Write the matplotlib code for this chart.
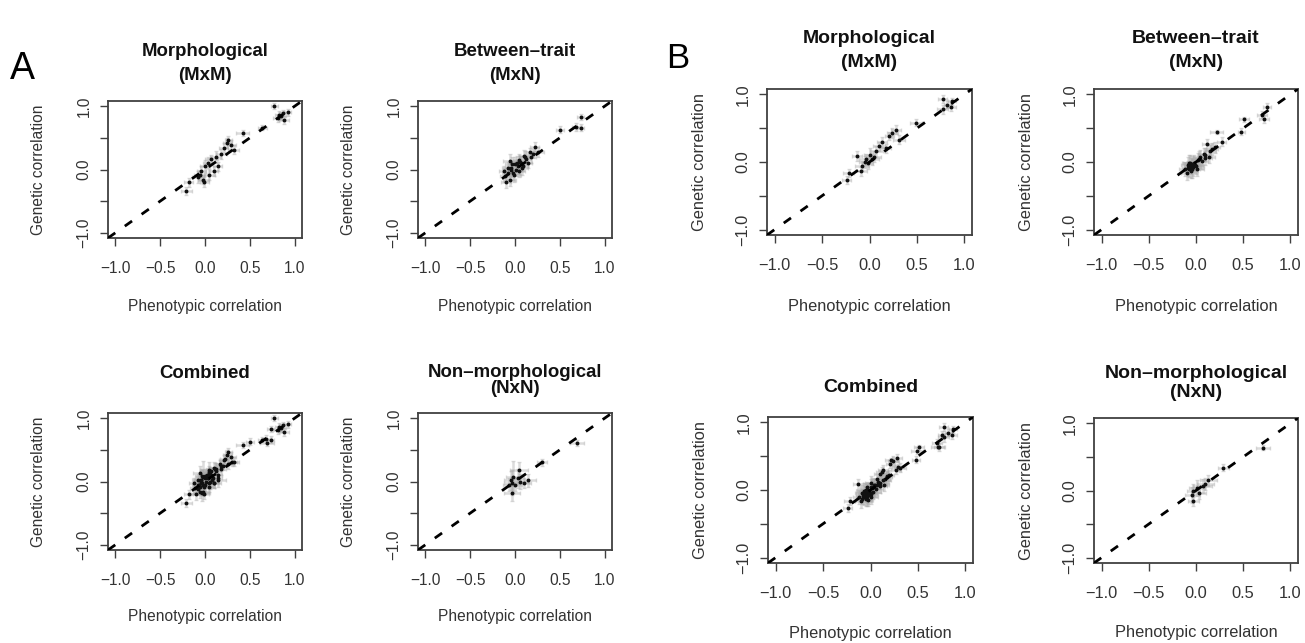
import matplotlib
matplotlib.use("Agg")
import matplotlib.pyplot as plt

plt.rcParams['font.family'] = ['Liberation Sans', 'DejaVu Sans']

# ---- data (phenotypic r, genetic r, error half-widths) ----
# Panel A
a_mxm_x = [-0.21, -0.18, -0.08, -0.06, -0.04, -0.02, -0.01, 0.00, 0.03, 0.05, 0.07, 0.10, 0.12, 0.14, 0.18,
           0.21, 0.26, 0.29, 0.32, 0.25, 0.42, 0.64, 0.77, 0.81, 0.82, 0.87, 0.88, 0.92, 0.85]
a_mxm_y = [-0.34, -0.20, -0.12, -0.08, -0.03, -0.16, -0.20, 0.05, 0.11, -0.08, 0.16, -0.03, 0.20, 0.05, 0.25,
           0.34, 0.47, 0.39, 0.31, 0.42, 0.58, 0.66, 1.00, 0.81, 0.86, 0.89, 0.78, 0.90, 0.84]
a_mxm_xerr = [0.06, 0.05, 0.07, 0.06, 0.05, 0.06, 0.05, 0.06, 0.05, 0.06, 0.07, 0.05, 0.06, 0.05, 0.06,
              0.05, 0.04, 0.05, 0.06, 0.05, 0.07, 0.05, 0.04, 0.05, 0.04, 0.05, 0.06, 0.04, 0.05]
a_mxm_yerr = [0.06, 0.07, 0.10, 0.08, 0.09, 0.07, 0.08, 0.10, 0.08, 0.09, 0.07, 0.08, 0.09, 0.07, 0.08,
              0.07, 0.06, 0.08, 0.07, 0.08, 0.05, 0.04, 0.05, 0.06, 0.07, 0.05, 0.06, 0.05, 0.06]

a_mxn_x = [0.73, 0.68, 0.73, 0.50, 0.22, 0.26, 0.17, 0.11, 0.06, 0.00, -0.04, -0.08, -0.02, 0.01, -0.11,
           -0.06, -0.10, 0.03, 0.07, 0.12, 0.18, -0.06, -0.03, 0.04, 0.09, -0.05, 0.02, -0.08, 0.14, 0.05,
           -0.01, 0.08, -0.12, 0.20, 0.10]
a_mxn_y = [0.83, 0.67, 0.66, 0.63, 0.36, 0.28, 0.27, 0.20, 0.12, 0.08, 0.03, -0.05, -0.05, 0.00, -0.11,
           -0.16, -0.20, 0.05, 0.11, 0.16, 0.19, 0.13, 0.08, -0.02, 0.06, 0.00, 0.10, 0.02, 0.10, 0.15,
           -0.08, 0.02, -0.03, 0.25, 0.22]
a_mxn_xerr = [0.04, 0.05, 0.04, 0.04, 0.05, 0.06, 0.05, 0.06, 0.07, 0.08, 0.07, 0.06, 0.08, 0.07, 0.06,
              0.07, 0.06, 0.08, 0.07, 0.06, 0.05, 0.07, 0.08, 0.07, 0.06, 0.08, 0.07, 0.06, 0.05, 0.07,
              0.08, 0.07, 0.06, 0.05, 0.06]
a_mxn_yerr = [0.05, 0.06, 0.05, 0.05, 0.07, 0.08, 0.07, 0.09, 0.10, 0.12, 0.11, 0.10, 0.12, 0.11, 0.09,
              0.10, 0.09, 0.12, 0.10, 0.09, 0.08, 0.11, 0.12, 0.10, 0.09, 0.12, 0.11, 0.10, 0.08, 0.10,
              0.12, 0.10, 0.09, 0.07, 0.09]

a_nxn_x = [0.69, 0.30, 0.04, -0.02, -0.05, -0.03, 0.00, 0.06, 0.03, -0.07, -0.03, 0.10, 0.14]
a_nxn_y = [0.61, 0.30, 0.18, 0.07, 0.02, -0.02, -0.05, 0.00, 0.05, -0.05, -0.18, -0.02, 0.02]
a_nxn_xerr = [0.08, 0.06, 0.10, 0.08, 0.07, 0.09, 0.08, 0.10, 0.07, 0.06, 0.09, 0.08, 0.09]
a_nxn_yerr = [0.05, 0.06, 0.12, 0.25, 0.15, 0.20, 0.10, 0.12, 0.15, 0.10, 0.12, 0.08, 0.10]

# Panel B
b_mxm_x = [0.77, 0.82, 0.86, 0.77, 0.87, 0.49, 0.28, 0.24, 0.21, 0.31, 0.13, 0.10, 0.07, 0.00, -0.04,
           -0.02, -0.08, -0.09, 0.03, -0.13, -0.22, -0.24, 0.17, 0.05, -0.05]
b_mxm_y = [0.93, 0.85, 0.82, 0.78, 0.90, 0.58, 0.48, 0.43, 0.38, 0.33, 0.29, 0.23, 0.16, 0.11, 0.04,
           -0.01, -0.06, -0.14, 0.04, 0.09, -0.16, -0.26, 0.20, 0.08, 0.00]
b_mxm_xerr = [0.05, 0.04, 0.05, 0.06, 0.04, 0.06, 0.05, 0.06, 0.05, 0.06, 0.05, 0.06, 0.07, 0.06, 0.07,
              0.06, 0.07, 0.06, 0.07, 0.05, 0.06, 0.05, 0.06, 0.07, 0.06]
b_mxm_yerr = [0.06, 0.05, 0.06, 0.07, 0.05, 0.05, 0.06, 0.07, 0.06, 0.07, 0.08, 0.07, 0.08, 0.09, 0.08,
              0.09, 0.08, 0.07, 0.09, 0.07, 0.06, 0.06, 0.07, 0.08, 0.09]

b_mxn_x = [0.75, 0.70, 0.72, 0.51, 0.48, 0.22, 0.12, 0.27, 0.17, 0.09, 0.04, -0.02, -0.05, -0.07, -0.04,
           -0.09, 0.00, -0.10, 0.06, 0.14, -0.06, -0.03, -0.08, -0.01, 0.02, -0.05, -0.12, 0.08, 0.20, 0.10,
           -0.04, 0.01, -0.07, 0.15, 0.03]
b_mxn_y = [0.82, 0.70, 0.63, 0.63, 0.45, 0.45, 0.26, 0.30, 0.19, 0.11, 0.07, -0.01, -0.06, -0.11, -0.11,
           -0.04, -0.06, -0.16, 0.01, 0.08, -0.02, -0.08, -0.09, -0.04, 0.03, -0.13, -0.10, 0.12, 0.22, 0.06,
           -0.03, -0.10, -0.01, 0.16, 0.05]
b_mxn_xerr = [0.04, 0.05, 0.05, 0.05, 0.04, 0.07, 0.06, 0.05, 0.06, 0.07, 0.07, 0.08, 0.08, 0.07, 0.08,
              0.07, 0.08, 0.06, 0.07, 0.06, 0.08, 0.08, 0.07, 0.08, 0.07, 0.07, 0.06, 0.06, 0.05, 0.07,
              0.08, 0.07, 0.08, 0.06, 0.07]
b_mxn_yerr = [0.05, 0.05, 0.06, 0.04, 0.05, 0.03, 0.08, 0.07, 0.09, 0.10, 0.11, 0.12, 0.12, 0.11, 0.12,
              0.11, 0.12, 0.10, 0.11, 0.09, 0.12, 0.12, 0.11, 0.12, 0.11, 0.10, 0.10, 0.09, 0.08, 0.10,
              0.12, 0.11, 0.12, 0.09, 0.11]

b_nxn_x = [0.71, 0.29, 0.13, 0.07, 0.01, -0.03, -0.04, -0.03, 0.10, 0.03]
b_nxn_y = [0.64, 0.34, 0.15, 0.07, 0.04, 0.00, -0.07, -0.15, 0.10, -0.03]
b_nxn_xerr = [0.07, 0.06, 0.09, 0.10, 0.08, 0.07, 0.08, 0.06, 0.09, 0.08]
b_nxn_yerr = [0.04, 0.05, 0.08, 0.10, 0.12, 0.10, 0.12, 0.08, 0.09, 0.10]

ticks = [-1.0, -0.5, 0.0, 0.5, 1.0]
x_tick_labels = ['\u22121.0', '\u22120.5', '0.0', '0.5', '1.0']
y_tick_labels = ['\u22121.0', '', '0.0', '', '1.0']   # R drops the crowded ones

# combined = all three trait classes together
a_all = (a_mxm_x + a_mxn_x + a_nxn_x, a_mxm_y + a_mxn_y + a_nxn_y,
         a_mxm_xerr + a_mxn_xerr + a_nxn_xerr, a_mxm_yerr + a_mxn_yerr + a_nxn_yerr)
b_all = (b_mxm_x + b_mxn_x + b_nxn_x, b_mxm_y + b_mxn_y + b_nxn_y,
         b_mxm_xerr + b_mxn_xerr + b_nxn_xerr, b_mxm_yerr + b_mxn_yerr + b_nxn_yerr)

W, H = 1305, 643
fig = plt.figure(figsize=(W / 100, H / 100), dpi=100)


def px_axes(left, top, right, bottom):
    return fig.add_axes([left / W, 1 - bottom / H, (right - left) / W, (bottom - top) / H])


def draw(ax, data, title, offsets, tsize, fsize, xlab_y, ylab_x):
    x, y, xe, ye = data
    ax.errorbar(x, y, xerr=xe, yerr=ye, fmt='none', ecolor='#a8a8a8', alpha=0.4,
                elinewidth=1.8, capsize=1.5, zorder=2)
    ax.plot(x, y, 'o', color='#111111', ms=1.8, zorder=3)
    ax.axline((0, 0), slope=1, color='black', lw=2.0, dashes=(3.2, 4.2), zorder=4)
    ax.set_xlim(-1.08, 1.08)
    ax.set_ylim(-1.08, 1.08)
    ax.set_xticks(ticks)
    ax.set_xticklabels(x_tick_labels)
    ax.set_yticks(ticks)
    ax.set_yticklabels(y_tick_labels)
    ax.tick_params(axis='both', labelsize=fsize, length=5.8, width=1.0,
                   colors='#404040', labelcolor='#333333')
    ax.tick_params(axis='x', pad=11)
    ax.tick_params(axis='y', pad=6, labelrotation=90)
    for t in ax.get_yticklabels():
        t.set_va('center')
    for s in ax.spines.values():
        s.set_color('#404040')
        s.set_linewidth(1.3)
    ax.set_xlabel('Phenotypic correlation', fontsize=fsize, color='#333333')
    ax.set_ylabel('Genetic correlation', fontsize=fsize, color='#333333')
    ax.xaxis.set_label_coords(0.5, xlab_y)
    ax.yaxis.set_label_coords(ylab_x, 0.5)
    for text, off in zip(title, offsets):
        ax.annotate(text, xy=(0.5, 1.0), xycoords='axes fraction', xytext=(0, off),
                    textcoords='offset points', ha='center', va='center',
                    fontweight='bold', fontsize=tsize, color='#111111')


A_T, A_F = 13.4, 11.2
B_T, B_F = 14.0, 11.8

# Panel A
ax = px_axes(108, 101, 302, 238)
draw(ax, (a_mxm_x, a_mxm_y, a_mxm_xerr, a_mxm_yerr), ['Morphological', '(MxM)'], [35.3, 18.7],
     A_T, A_F, -0.445, -0.32)
ax = px_axes(418, 101, 612, 238)
draw(ax, (a_mxn_x, a_mxn_y, a_mxn_xerr, a_mxn_yerr), ['Between\u2013trait', '(MxN)'], [35.3, 18.7],
     A_T, A_F, -0.445, -0.32)
ax = px_axes(108, 413, 302, 550)
draw(ax, a_all, ['Combined'], [28.8], A_T, A_F, -0.43, -0.32)
ax = px_axes(418, 413, 612, 550)
draw(ax, (a_nxn_x, a_nxn_y, a_nxn_xerr, a_nxn_yerr), ['Non\u2013morphological', '(NxN)'], [29.5, 17.5],
     A_T, A_F, -0.43, -0.32)

# Panel B
ax = px_axes(767, 89, 972, 235)
draw(ax, (b_mxm_x, b_mxm_y, b_mxm_xerr, b_mxm_yerr), ['Morphological', '(MxM)'], [36.7, 19.4],
     B_T, B_F, -0.438, -0.293)
ax = px_axes(1094, 89, 1298, 235)
draw(ax, (b_mxn_x, b_mxn_y, b_mxn_xerr, b_mxn_yerr), ['Between\u2013trait', '(MxN)'], [36.7, 19.4],
     B_T, B_F, -0.438, -0.293)
ax = px_axes(768, 417, 973, 563)
draw(ax, b_all, ['Combined'], [21.6], B_T, B_F, -0.43, -0.293)
ax = px_axes(1094, 418, 1298, 563)
draw(ax, (b_nxn_x, b_nxn_y, b_nxn_xerr, b_nxn_yerr), ['Non\u2013morphological', '(NxN)'], [32.4, 18.2],
     B_T, B_F, -0.43, -0.293)

fig.text(22 / W, 1 - 69 / H, 'A', fontsize=27, ha='center', va='center')
fig.text(678 / W, 1 - 59 / H, 'B', fontsize=25, ha='center', va='center')

fig.savefig('out.png', dpi=100)
